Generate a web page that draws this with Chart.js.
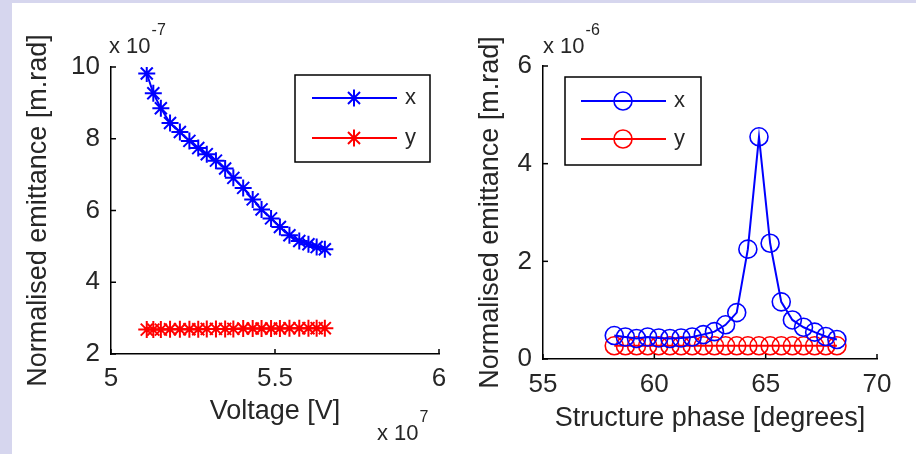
<!DOCTYPE html>
<html><head><meta charset="utf-8">
<script src="https://cdn.jsdelivr.net/npm/chart.js@4.4.1/dist/chart.umd.min.js"></script>
<style>
html,body{margin:0;padding:0;width:916px;height:454px;overflow:hidden;background:#d6d6ee;}
#frame{position:absolute;left:12px;top:3px;width:904px;height:451px;background:#fff;}
canvas{position:absolute;left:0;top:0;}
</style></head><body>
<div id="frame"></div>
<canvas id="c1" width="916" height="454"></canvas>
<canvas id="c2" width="916" height="454"></canvas>
<script>
// ---- Left panel: emittance vs voltage (x 10^7 V, x 10^-7 m.rad)
const voltage = [5.109,5.129,5.152,5.180,5.210,5.239,5.266,5.292,5.320,5.348,5.373,5.403,5.432,5.459,5.488,5.515,5.544,5.574,5.602,5.627,5.652];
const emitVoltX = [9.82,9.27,8.85,8.44,8.19,7.94,7.74,7.57,7.39,7.17,6.91,6.63,6.31,6.03,5.78,5.54,5.31,5.15,5.06,4.98,4.92];
const emitVoltY = [2.68,2.68,2.68,2.69,2.69,2.69,2.69,2.70,2.70,2.70,2.70,2.71,2.71,2.71,2.71,2.71,2.72,2.72,2.72,2.72,2.72];
const voltTicksX = [5, 5.5, 6];
const voltTicksY = [2, 4, 6, 8, 10];
// ---- Right panel: emittance vs structure phase (degrees, x 10^-6 m.rad)
const phase = [58.2,58.7,59.2,59.7,60.2,60.7,61.2,61.7,62.2,62.7,63.2,63.7,64.2,64.7,65.2,65.7,66.2,66.7,67.2,67.7,68.2];
const emitPhaseX = [0.48,0.45,0.42,0.45,0.43,0.42,0.43,0.45,0.50,0.56,0.70,0.95,2.25,4.55,2.37,1.17,0.80,0.65,0.55,0.46,0.40];
const emitPhaseY = [0.27,0.27,0.27,0.27,0.27,0.27,0.27,0.27,0.27,0.27,0.27,0.27,0.27,0.27,0.27,0.27,0.27,0.27,0.27,0.27,0.27];
const phaseTicksX = [55, 60, 65, 70];
const phaseTicksY = [0, 2, 4, 6];
const seriesNames = ['x', 'y'];

const FONT = '"Liberation Sans", Arial, sans-serif';
const TXT = '#262626';
const BLUE = '#0000ff', RED = '#ff0000';

const inwardTicks = {
  id: 'inwardTicks',
  afterDraw(chart) {
    const {ctx, chartArea: a, scales: {x, y}} = chart;
    ctx.save(); ctx.strokeStyle = '#000'; ctx.lineWidth = 1.5;
    x.ticks.forEach(t => { const p = x.getPixelForValue(t.value); ctx.beginPath(); ctx.moveTo(p, a.bottom); ctx.lineTo(p, a.bottom - 5); ctx.stroke(); });
    y.ticks.forEach(t => { const p = y.getPixelForValue(t.value); ctx.beginPath(); ctx.moveTo(a.left, p); ctx.lineTo(a.left + 5, p); ctx.stroke(); });
    ctx.restore();
  }
};

const legendBox = {
  id: 'legendBox',
  afterDraw(chart, args, o) {
    const ctx = chart.ctx;
    ctx.save();
    ctx.fillStyle = '#fff'; ctx.fillRect(o.x0, o.y0, o.x1 - o.x0, o.y1 - o.y0);
    ctx.strokeStyle = '#000'; ctx.lineWidth = 1.5; ctx.strokeRect(o.x0, o.y0, o.x1 - o.x0, o.y1 - o.y0);
    chart.data.datasets.forEach((ds, i) => {
      const yy = o.rows[i];
      ctx.strokeStyle = ds.borderColor; ctx.lineWidth = ds.borderWidth;
      ctx.beginPath(); ctx.moveTo(o.lx0, yy); ctx.lineTo(o.lx1, yy); ctx.stroke();
      ctx.strokeStyle = ds.borderColor; ctx.fillStyle = ds.pointBackgroundColor; ctx.lineWidth = ds.pointBorderWidth;
      Chart.helpers.drawPoint(ctx, {pointStyle: ds.pointStyle, radius: ds.pointRadius, borderWidth: ds.pointBorderWidth, rotation: 0}, o.mx, yy);
      ctx.fillStyle = TXT; ctx.font = o.size + 'px ' + FONT; ctx.textBaseline = 'middle'; ctx.textAlign = 'left';
      ctx.fillText(ds.label, o.tx, yy);
    });
    ctx.restore();
  }
};

const expo = {
  id: 'expo',
  afterDraw(chart, args, o) {
    const ctx = chart.ctx;
    ctx.save(); ctx.fillStyle = TXT; ctx.textBaseline = 'alphabetic'; ctx.textAlign = 'left';
    o.items.forEach(it => {
      ctx.font = it.size + 'px ' + FONT;
      ctx.fillText('x 10', it.x, it.y);
      const w = ctx.measureText('x 10').width;
      ctx.font = it.supSize + 'px ' + FONT;
      ctx.fillText(it.sup, it.x + w + 1, it.y - 18);
    });
    ctx.restore();
  }
};

function panel(id, cfg) {
  return new Chart(document.getElementById(id), {
    type: 'line',
    data: {
      datasets: [
        {label: seriesNames[0], data: cfg.xs.map((v, i) => ({x: v, y: cfg.s1[i]})), borderColor: BLUE, backgroundColor: BLUE,
         pointBackgroundColor: cfg.pointFill ? BLUE : 'rgba(0,0,0,0)', pointBorderColor: BLUE,
         pointStyle: cfg.pointStyle, pointRadius: cfg.r, pointBorderWidth: cfg.pbw, borderWidth: 2, tension: 0},
        {label: seriesNames[1], data: cfg.xs.map((v, i) => ({x: v, y: cfg.s2[i]})), borderColor: RED, backgroundColor: RED,
         pointBackgroundColor: cfg.pointFill ? RED : 'rgba(0,0,0,0)', pointBorderColor: RED,
         pointStyle: cfg.pointStyle, pointRadius: cfg.r, pointBorderWidth: cfg.pbw, borderWidth: 2, tension: 0}
      ]
    },
    options: {
      responsive: false, animation: false, events: [],
      layout: {padding: cfg.pad},
      plugins: {legend: {display: false}, tooltip: {enabled: false}, legendBox: cfg.legend, expo: cfg.expo},
      scales: {
        x: {type: 'linear', min: cfg.xt[0], max: cfg.xt[cfg.xt.length - 1],
            afterBuildTicks: s => { s.ticks = cfg.xt.map(v => ({value: v})); },
            ticks: {font: {family: FONT, size: 26}, color: TXT, padding: cfg.xpad, maxRotation: 0, callback: v => String(+(+v).toFixed(2))},
            grid: {display: false, drawTicks: false}, border: {color: '#000', width: 1.5},
            title: {display: true, text: cfg.xtitle, font: {family: FONT, size: 27}, color: TXT, padding: {top: 0, bottom: cfg.xtb}},
            afterFit: s => { s.height = cfg.xh; }},
        y: {type: 'linear', min: cfg.yt[0], max: cfg.yt[cfg.yt.length - 1],
            afterBuildTicks: s => { s.ticks = cfg.yt.map(v => ({value: v})); },
            ticks: {font: {family: FONT, size: 26}, color: TXT, padding: 11, callback: v => String(+(+v).toFixed(2))},
            grid: {display: false, drawTicks: false}, border: {color: '#000', width: 1.5},
            title: {display: true, text: 'Normalised emittance [m.rad]', font: {family: FONT, size: 27}, color: TXT, padding: {top: cfg.ytt, bottom: 0}},
            afterFit: s => { s.width = cfg.yw; }}
      }
    },
    plugins: [inwardTicks, legendBox, expo]
  });
}

panel('c1', {
  xs: voltage, s1: emitVoltX, s2: emitVoltY, xt: voltTicksX, yt: voltTicksY,
  pointStyle: 'star', r: 8.5, pbw: 2, pointFill: true,
  pad: {left: 12, top: 67, right: 477, bottom: 0}, yw: 99, xh: 100, xpad: 9, xtb: 26, ytt: 10,
  xtitle: 'Voltage [V]',
  legend: {x0: 295, y0: 75, x1: 430, y1: 162, rows: [98, 138], lx0: 312, lx1: 397, mx: 354, tx: 405, size: 22},
  expo: {items: [{x: 109, y: 53, size: 22, sup: '-7', supSize: 16}, {x: 377, y: 440, size: 22, sup: '7', supSize: 16}]}
});

panel('c2', {
  xs: phase, s1: emitPhaseX, s2: emitPhaseY, xt: phaseTicksX, yt: phaseTicksY,
  pointStyle: 'circle', r: 9, pbw: 1.6, pointFill: false,
  pad: {left: 460, top: 66, right: 39, bottom: 0}, yw: 83, xh: 95, xpad: 10, xtb: 19, ytt: 14,
  xtitle: 'Structure phase [degrees]',
  legend: {x0: 565, y0: 77, x1: 701, y1: 165, rows: [101, 139], lx0: 581, lx1: 666, mx: 623, tx: 674, size: 22},
  expo: {items: [{x: 543, y: 53, size: 22, sup: '-6', supSize: 16}]}
});
</script>
</body></html>
